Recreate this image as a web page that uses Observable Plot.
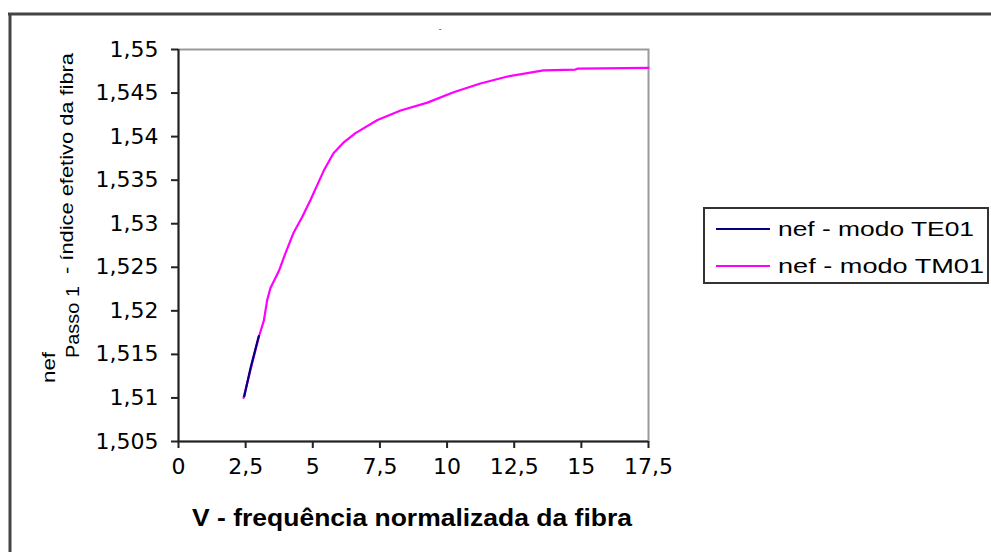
<!DOCTYPE html>
<html>
<head>
<meta charset="utf-8">
<script src="https://cdn.jsdelivr.net/npm/d3@7"></script>
<script src="https://cdn.jsdelivr.net/npm/@observablehq/plot@0.6"></script>
<style>
  html, body { margin: 0; padding: 0; background: #fff; }
  #wrap { position: relative; width: 991px; height: 552px; overflow: hidden; background: #fff; }
  #wrap > svg { position: absolute; left: 0; top: 0; }
</style>
</head>
<body>
<div id="wrap"></div>
<script>
// ---- data ----
const v_TM01 = [2.42, 2.68, 2.99, 3.18, 3.30, 3.42, 3.74, 3.98, 4.29, 4.61, 4.91, 5.16, 5.41, 5.77, 6.14, 6.59, 7.41, 8.27, 9.27, 10.24, 11.24, 12.25, 13.59, 14.78, 14.85, 17.5];
const nef_TM01 = [1.5100, 1.5132, 1.5170, 1.5189, 1.5212, 1.5226, 1.5246, 1.5266, 1.5290, 1.5308, 1.5327, 1.5344, 1.5361, 1.5381, 1.5393, 1.5404, 1.5419, 1.5430, 1.5439, 1.5451, 1.5461, 1.5469, 1.5476, 1.5477, 1.5478, 1.5479];
const v_TE01 = [2.45, 2.68, 2.99];
const nef_TE01 = [1.5102, 1.5134, 1.5171];
const seriesNames = ["nef - modo TE01", "nef - modo TM01"];
const seriesColors = ["#000080", "#ff00ff"];
const xTicks = [0, 2.5, 5, 7.5, 10, 12.5, 15, 17.5];
const yTicks = [1.505, 1.51, 1.515, 1.52, 1.525, 1.53, 1.535, 1.54, 1.545, 1.55];
const xTitle = "V - frequência normalizada da fibra";
const yTitleParts = ["nef", "Passo 1", "- índice efetivo da fibra"];
const topMark = "-";

const tm01 = v_TM01.map((v, i) => ({v, n: nef_TM01[i]}));
const te01 = v_TE01.map((v, i) => ({v, n: nef_TE01[i]}));
const fmt = d => String(d).replace(".", ",");

const chart = Plot.plot({
  width: 991,
  height: 552,
  marginLeft: 178,
  marginRight: 343,
  marginTop: 49,
  marginBottom: 111,
  style: {fontFamily: "DejaVu Sans", fontSize: "22px", color: "#000", background: "transparent"},
  x: {domain: [0, 17.5]},
  y: {domain: [1.505, 1.55]},
  marks: [
    Plot.frame({stroke: "#9a9a9a", strokeWidth: 2}),
    Plot.axisX({ticks: xTicks, tickFormat: fmt, tickSize: 7, tickPadding: 10, label: null, stroke: "#222", strokeWidth: 2}),
    Plot.axisY({ticks: yTicks, tickFormat: fmt, tickSize: 7, tickPadding: 13, label: null, stroke: "#222", strokeWidth: 2}),
    Plot.ruleX([0], {stroke: "#222", strokeWidth: 2}),
    Plot.ruleY([1.505], {stroke: "#222", strokeWidth: 2}),
    Plot.line(tm01, {x: "v", y: "n", stroke: seriesColors[1], strokeWidth: 2.2}),
    Plot.line(te01, {x: "v", y: "n", stroke: seriesColors[0], strokeWidth: 2.2})
  ]
});
document.getElementById("wrap").appendChild(chart);

// ---- overlay: titles, legend, outer frame ----
const ov = d3.select("#wrap").append("svg")
  .attr("width", 991).attr("height", 552)
  .style("pointer-events", "none");

// outer frame (top & left)
ov.append("line").attr("x1", 8).attr("x2", 991).attr("y1", 14).attr("y2", 14)
  .attr("stroke", "#444").attr("stroke-width", 3);
ov.append("line").attr("x1", 10).attr("x2", 10).attr("y1", 13).attr("y2", 552)
  .attr("stroke", "#444").attr("stroke-width", 3);

// small top mark (title remnant)
ov.append("text").attr("x", 440).attr("y", 31).attr("text-anchor", "middle")
  .attr("font-family", "Liberation Sans").attr("font-size", 8).text(topMark);

// x title
ov.append("text").attr("x", 412).attr("y", 526).attr("text-anchor", "middle")
  .attr("font-family", "Liberation Sans").attr("font-weight", "bold").attr("font-size", 23)
  .attr("textLength", 440).attr("lengthAdjust", "spacingAndGlyphs")
  .text(xTitle);

// y title (rotated parts)
const yt = [
  {t: yTitleParts[0], bx: 55, endY: 383, len: 31},
  {t: yTitleParts[1], bx: 79, endY: 358, len: 72},
  {t: yTitleParts[2], bx: 73, endY: 274, len: 221}
];
yt.forEach(p => {
  ov.append("text")
    .attr("transform", `translate(${p.bx},${p.endY}) rotate(-90)`)
    .attr("x", 0).attr("y", 0)
    .attr("font-family", "Liberation Sans").attr("font-size", 19)
    .attr("textLength", p.len).attr("lengthAdjust", "spacingAndGlyphs")
    .text(p.t);
});

// legend
ov.append("rect").attr("x", 704).attr("y", 208).attr("width", 284).attr("height", 75)
  .attr("fill", "#fff").attr("stroke", "#333").attr("stroke-width", 2);
seriesNames.forEach((name, i) => {
  const y = 229 + i * 37;
  ov.append("line").attr("x1", 716).attr("x2", 770).attr("y1", y).attr("y2", y)
    .attr("stroke", seriesColors[i]).attr("stroke-width", 2);
  ov.append("text").attr("x", 778).attr("y", y + 7)
    .attr("font-family", "Liberation Sans").attr("font-size", 21)
    .attr("textLength", i === 0 ? 196 : 206).attr("lengthAdjust", "spacingAndGlyphs")
    .text(name);
});
</script>
</body>
</html>
